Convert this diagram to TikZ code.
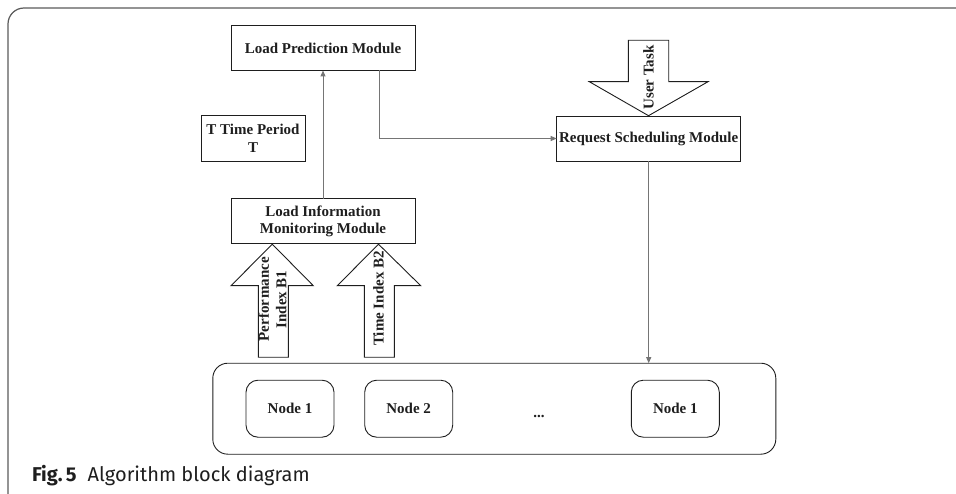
\documentclass[tikz,border=0pt]{standalone}
\usepackage{fontspec}
\setmainfont{Liberation Serif}
\newfontfamily\capfont{Fira Sans}
\usetikzlibrary{arrows.meta}
\definecolor{framegray}{HTML}{5A5A5A}
\definecolor{linkgray}{HTML}{757575}
\definecolor{inkdark}{HTML}{1E1E1E}
\begin{document}
\begin{tikzpicture}[x=1pt,y=-1pt,
  every node/.style={inner sep=0pt,outer sep=0pt},
  lbl/.style={font=\fontsize{15}{17.5}\selectfont\bfseries,text=inkdark,align=center},
  module/.style={lbl,draw=inkdark,line width=0.9pt,minimum width=184pt,minimum height=45pt},
  worker/.style={lbl,draw=inkdark,line width=0.9pt,rounded corners=12pt,minimum width=88pt,minimum height=57pt},
  link/.style={draw=linkgray,line width=1pt,-{Triangle[length=6pt,width=5pt]}},
  fatarrow/.style={draw=inkdark,line width=0.9pt,fill=white}
]
\useasboundingbox (0,0) rectangle (956,494);
% outer panel
\draw[framegray,line width=1.2pt,rounded corners=16pt] (8,520) -- (8,8) -- (990,8);

% modules
\node[module] (lpm) at (323,48) {Load Prediction Module};
\node[module,minimum width=104pt,minimum height=46pt] (tp) at (253,138.5) {T Time Period\\T};
\node[module] (lim) at (323,221.2) {Load Information\\Monitoring Module};
\node[module] (rsm) at (648.7,138.5) {Request Scheduling Module};

% worker group
\node[draw=inkdark,line width=0.9pt,rounded corners=15pt,minimum width=563pt,minimum height=91pt] (grp) at (494.3,408.7) {};
\node[worker] (n1) at (290,408.7) {Node 1};
\node[worker] (n2) at (408.7,408.7) {Node 2};
\node[lbl] (dots) at (539,416) {...};
\node[worker] (n3) at (675.3,408.7) {Node 1};

% connectors
\draw[link] (lim) -- (lpm);
\draw[link] (lpm.south) ++(56,0) |- (rsm.west);
\draw[link] (rsm.south) -- (rsm.south |- grp.north);

% block arrows
\draw[fatarrow] (628.3,40.3) -- (668.7,40.3) -- (668.7,81.7) -- (708,81.7) -- (648.5,115.7)
  -- (589.3,81.7) -- (628.3,81.7) -- cycle;
\node[lbl,rotate=90] (ut) at (648.5,77.5) {User Task};

\draw[fatarrow] (258.3,357.3) -- (258.3,285.7) -- (231,285.7) -- (272.3,244.2) -- (313.3,285.7)
  -- (288.3,285.7) -- (288.3,357.3) -- cycle;
\node[lbl,rotate=90,align=center] (pb) at (272.5,299.5) {Per\kern0.6pt for\kern0.6pt mance\\Index B1};

\draw[fatarrow] (364.3,357.3) -- (364.3,285.7) -- (337.3,285.7) -- (378.5,244.2) -- (420.7,285.7)
  -- (394.3,285.7) -- (394.3,357.3) -- cycle;
\node[lbl,rotate=90] (tb) at (378.5,298.5) {Time Index B2};

% caption
\node[anchor=base west,font=\capfont\fontsize{20}{24}\selectfont,text=inkdark] (cap) at (32,481)
  {\textbf{Fig.\,5}\hspace{11pt}Algorithm block diagram};
\end{tikzpicture}
\end{document}
